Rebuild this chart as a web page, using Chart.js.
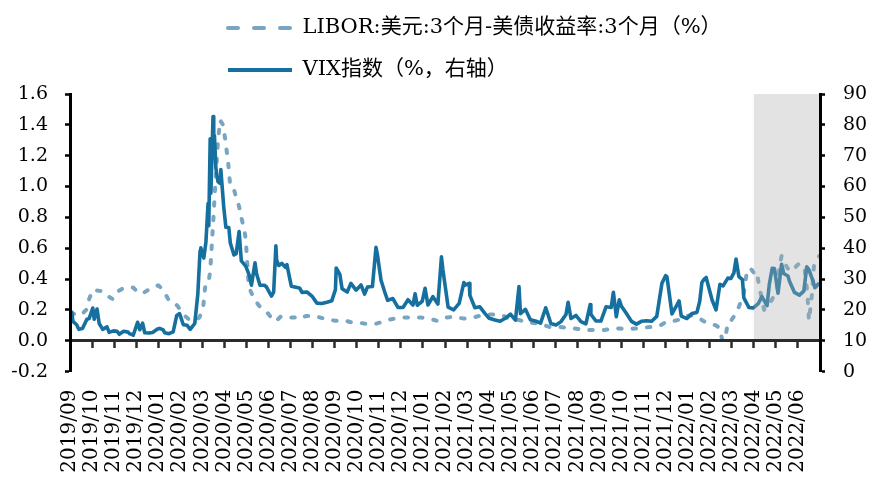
<!DOCTYPE html>
<html><head><meta charset="utf-8">
<script src="https://cdn.jsdelivr.net/npm/chart.js@4/dist/chart.umd.min.js"></script>
<style>html,body{margin:0;padding:0;background:#fff;}#wrap{width:872px;height:478px;}</style>
</head><body><div id="wrap"><canvas id="c" width="872" height="478"></canvas></div>
<script>
const monthLabels = ['2019/09','2019/10','2019/11','2019/12','2020/01','2020/02','2020/03','2020/04','2020/05','2020/06','2020/07','2020/08','2020/09','2020/10','2020/11','2020/12','2021/01','2021/02','2021/03','2021/04','2021/05','2021/06','2021/07','2021/08','2021/09','2021/10','2021/11','2021/12','2022/01','2022/02','2022/03','2022/04','2022/05','2022/06'];
const shadeFrom = '2022/04';
const leftTicks = [-0.2, 1.6, 0.2];
const rightTicks = [0, 90, 10];

const liborDates = ['2019-09-02','2019-09-09','2019-09-16','2019-09-23','2019-09-27','2019-10-02','2019-10-09','2019-10-16','2019-10-23','2019-10-30','2019-11-06','2019-11-13','2019-11-20','2019-11-27','2019-12-04','2019-12-11','2019-12-18','2019-12-25','2020-01-01','2020-01-08','2020-01-15','2020-01-22','2020-01-29','2020-02-05','2020-02-12','2020-02-19','2020-02-26','2020-03-02','2020-03-05','2020-03-09','2020-03-12','2020-03-16','2020-03-19','2020-03-23','2020-03-26','2020-03-30','2020-04-02','2020-04-06','2020-04-09','2020-04-14','2020-04-17','2020-04-21','2020-04-24','2020-04-28','2020-04-30','2020-05-04','2020-05-07','2020-05-12','2020-05-15','2020-05-20','2020-05-26','2020-05-29','2020-06-03','2020-06-08','2020-06-12','2020-06-17','2020-06-24','2020-07-01','2020-07-08','2020-07-15','2020-07-22','2020-07-29','2020-08-05','2020-08-12','2020-08-19','2020-08-26','2020-09-02','2020-09-09','2020-09-16','2020-09-23','2020-09-30','2020-10-07','2020-10-14','2020-10-21','2020-10-28','2020-11-04','2020-11-11','2020-11-18','2020-11-25','2020-12-02','2020-12-09','2020-12-16','2020-12-23','2020-12-30','2021-01-06','2021-01-13','2021-01-20','2021-01-27','2021-02-03','2021-02-10','2021-02-17','2021-02-24','2021-03-03','2021-03-10','2021-03-17','2021-03-24','2021-03-31','2021-04-07','2021-04-14','2021-04-21','2021-04-28','2021-05-05','2021-05-12','2021-05-19','2021-05-26','2021-06-02','2021-06-09','2021-06-16','2021-06-23','2021-06-30','2021-07-07','2021-07-14','2021-07-21','2021-07-28','2021-08-04','2021-08-11','2021-08-18','2021-08-25','2021-09-01','2021-09-08','2021-09-15','2021-09-22','2021-09-29','2021-10-06','2021-10-13','2021-10-20','2021-10-27','2021-11-03','2021-11-10','2021-11-17','2021-11-24','2021-12-01','2021-12-08','2021-12-15','2021-12-22','2021-12-29','2022-01-05','2022-01-12','2022-01-19','2022-01-26','2022-02-02','2022-02-09','2022-02-14','2022-02-17','2022-02-21','2022-02-24','2022-02-28','2022-03-03','2022-03-08','2022-03-11','2022-03-15','2022-03-18','2022-03-22','2022-03-25','2022-03-29','2022-04-01','2022-04-05','2022-04-08','2022-04-12','2022-04-15','2022-04-20','2022-04-25','2022-04-29','2022-05-03','2022-05-05','2022-05-09','2022-05-12','2022-05-16','2022-05-19','2022-05-24','2022-05-27','2022-05-31','2022-06-03','2022-06-07','2022-06-10','2022-06-14','2022-06-16','2022-06-20','2022-06-23','2022-06-27','2022-06-30'];
const liborValues = [0.18,0.17,0.165,0.20,0.27,0.33,0.325,0.32,0.29,0.27,0.32,0.34,0.345,0.345,0.31,0.31,0.33,0.345,0.36,0.33,0.27,0.26,0.22,0.17,0.14,0.13,0.15,0.21,0.35,0.36,0.45,0.75,1.0,1.3,1.43,1.40,1.31,1.16,1.0,0.98,0.93,0.87,0.80,0.72,0.66,0.37,0.32,0.27,0.25,0.22,0.20,0.19,0.16,0.13,0.13,0.155,0.16,0.15,0.15,0.14,0.16,0.16,0.16,0.15,0.14,0.135,0.13,0.13,0.13,0.12,0.12,0.115,0.11,0.11,0.11,0.12,0.13,0.14,0.145,0.15,0.15,0.15,0.15,0.15,0.145,0.14,0.13,0.13,0.15,0.155,0.15,0.145,0.145,0.15,0.16,0.165,0.17,0.17,0.17,0.16,0.145,0.14,0.135,0.125,0.12,0.115,0.11,0.10,0.09,0.09,0.09,0.085,0.08,0.08,0.075,0.075,0.07,0.07,0.07,0.07,0.075,0.08,0.08,0.075,0.075,0.08,0.08,0.085,0.09,0.09,0.10,0.12,0.13,0.13,0.14,0.16,0.165,0.16,0.14,0.12,0.11,0.10,0.08,0.0,0.02,0.12,0.13,0.15,0.19,0.22,0.27,0.31,0.44,0.47,0.46,0.44,0.45,0.36,0.27,0.20,0.24,0.26,0.30,0.33,0.45,0.55,0.53,0.48,0.46,0.45,0.47,0.49,0.50,0.49,0.47,0.30,0.13,0.30,0.50,0.53,0.55];

const vixDates = ['2019-09-03','2019-09-05','2019-09-10','2019-09-13','2019-09-18','2019-09-24','2019-09-27','2019-10-02','2019-10-04','2019-10-08','2019-10-11','2019-10-16','2019-10-22','2019-10-25','2019-10-31','2019-11-05','2019-11-08','2019-11-14','2019-11-20','2019-11-22','2019-11-27','2019-12-03','2019-12-06','2019-12-10','2019-12-13','2019-12-19','2019-12-24','2019-12-31','2020-01-03','2020-01-08','2020-01-10','2020-01-16','2020-01-22','2020-01-27','2020-01-31','2020-02-05','2020-02-10','2020-02-14','2020-02-20','2020-02-24','2020-02-27','2020-02-28','2020-03-03','2020-03-06','2020-03-09','2020-03-10','2020-03-12','2020-03-13','2020-03-16','2020-03-17','2020-03-18','2020-03-20','2020-03-23','2020-03-26','2020-03-27','2020-03-31','2020-04-03','2020-04-07','2020-04-09','2020-04-14','2020-04-17','2020-04-21','2020-04-24','2020-04-30','2020-05-05','2020-05-08','2020-05-13','2020-05-15','2020-05-20','2020-05-26','2020-05-29','2020-06-05','2020-06-08','2020-06-11','2020-06-12','2020-06-15','2020-06-19','2020-06-24','2020-06-26','2020-07-02','2020-07-10','2020-07-14','2020-07-17','2020-07-24','2020-07-31','2020-08-07','2020-08-14','2020-08-21','2020-08-28','2020-09-02','2020-09-03','2020-09-08','2020-09-11','2020-09-18','2020-09-23','2020-09-30','2020-10-07','2020-10-12','2020-10-16','2020-10-23','2020-10-28','2020-10-30','2020-11-04','2020-11-09','2020-11-13','2020-11-20','2020-11-27','2020-12-04','2020-12-11','2020-12-18','2020-12-21','2020-12-24','2020-12-31','2021-01-04','2021-01-08','2021-01-15','2021-01-22','2021-01-27','2021-01-29','2021-02-05','2021-02-12','2021-02-19','2021-02-25','2021-02-26','2021-03-04','2021-03-05','2021-03-12','2021-03-19','2021-03-26','2021-04-01','2021-04-09','2021-04-16','2021-04-23','2021-04-30','2021-05-07','2021-05-12','2021-05-14','2021-05-21','2021-05-28','2021-06-04','2021-06-11','2021-06-18','2021-06-25','2021-07-02','2021-07-09','2021-07-16','2021-07-19','2021-07-23','2021-07-30','2021-08-06','2021-08-13','2021-08-19','2021-08-20','2021-08-27','2021-09-03','2021-09-10','2021-09-17','2021-09-20','2021-09-24','2021-09-28','2021-10-01','2021-10-08','2021-10-15','2021-10-22','2021-10-29','2021-11-05','2021-11-12','2021-11-19','2021-11-26','2021-12-01','2021-12-03','2021-12-10','2021-12-17','2021-12-20','2021-12-23','2021-12-31','2022-01-07','2022-01-14','2022-01-18','2022-01-21','2022-01-24','2022-01-27','2022-02-04','2022-02-09','2022-02-14','2022-02-18','2022-02-24','2022-02-28','2022-03-04','2022-03-07','2022-03-11','2022-03-16','2022-03-18','2022-03-25','2022-03-31','2022-04-07','2022-04-12','2022-04-19','2022-04-22','2022-04-26','2022-04-29','2022-05-04','2022-05-09','2022-05-12','2022-05-18','2022-05-20','2022-05-27','2022-06-03','2022-06-09','2022-06-13','2022-06-16','2022-06-22','2022-06-24','2022-06-30'];
const vixValues = [19.7,16.3,15.2,13.7,14.0,17.0,17.2,20.6,17.0,20.3,15.6,13.7,14.5,12.7,13.2,13.1,12.1,13.1,12.8,12.3,11.8,16.0,13.6,15.7,12.6,12.5,12.7,13.8,14.0,13.5,12.6,12.3,12.9,18.2,18.8,15.2,15.0,13.7,15.6,25.0,39.2,40.1,36.8,41.9,54.5,47.3,75.5,57.8,82.7,75.9,76.5,66.0,61.6,61.0,65.5,53.5,46.8,46.7,41.7,37.8,38.2,45.4,35.9,34.2,31.2,28.0,35.3,31.9,28.0,28.0,27.5,24.5,25.8,40.8,36.1,34.4,35.1,33.8,34.7,27.7,27.3,27.0,25.7,25.8,24.5,22.2,22.1,22.5,23.0,26.6,33.6,31.5,26.9,25.8,28.6,26.4,28.1,25.1,27.4,27.6,40.3,38.0,29.6,25.8,23.1,23.7,20.8,20.8,23.3,21.6,25.2,21.5,22.8,27.0,21.6,24.3,21.9,37.2,33.1,20.9,20.0,22.1,28.9,28.0,28.6,24.7,20.7,21.0,18.9,17.3,16.7,16.3,17.3,18.6,16.7,27.6,18.8,20.2,16.8,16.4,15.7,20.7,15.6,15.1,16.2,18.5,22.5,17.2,18.2,16.2,15.5,21.7,18.6,16.4,16.4,21.0,20.8,25.7,17.8,23.3,21.2,18.8,16.3,15.4,16.3,16.5,16.3,17.9,28.6,31.1,30.7,18.7,21.6,22.9,18.0,17.2,18.8,19.2,22.8,28.9,29.9,30.5,23.2,20.0,28.3,27.8,30.3,30.2,32.0,36.5,30.8,29.8,23.9,20.8,20.6,22.0,24.3,21.4,28.2,33.5,33.4,25.4,34.8,31.8,31.0,29.4,25.7,24.8,26.1,34.0,33.0,29.0,27.2,28.7];

function monthPos(d) {
  const [y, m, dd] = d.split('-').map(Number);
  const dim = new Date(y, m, 0).getDate();
  return (y - 2019) * 12 + (m - 9) + (dd - 1) / dim;
}
const FONT = "'DejaVu Serif', 'Noto Sans CJK SC', serif";
const monthTicks = s => { s.ticks = monthLabels.map((_, i) => ({ value: i })); };

const shadePlugin = {
  id: 'shade',
  afterDatasetsDraw(chart) {
    const { ctx, chartArea, scales } = chart;
    const x0 = scales.x.getPixelForValue(monthLabels.indexOf(shadeFrom));
    const y1 = scales.y.getPixelForValue(0);
    ctx.save();
    ctx.fillStyle = 'rgba(175,175,175,0.35)';
    ctx.fillRect(x0, chartArea.top, chartArea.right - x0, y1 - chartArea.top);
    ctx.restore();
  }
};
const legendPlace = {
  id: 'legendPlace',
  afterLayout(chart) {
    const lg = chart.legend;
    const pad = lg.options.labels.padding;
    lg.left = 228 - pad;
    lg.right = chart.width;
    lg.top = 28 - pad - lg.options.labels.font.size / 2;
  }
};

new Chart(document.getElementById('c'), {
  type: 'line',
  data: {
    datasets: [
      {
        label: 'LIBOR:美元:3个月-美债收益率:3个月（%）',
        data: liborDates.map((d, i) => ({ x: monthPos(d), y: liborValues[i] })),
        yAxisID: 'y', xAxisID: 'x',
        borderColor: '#78A5C1', borderWidth: 4, borderDash: [3.5, 11],
        borderCapStyle: 'round', borderJoinStyle: 'round',
        pointRadius: 0, tension: 0, order: 1
      },
      {
        label: 'VIX指数（%，右轴）',
        data: vixDates.map((d, i) => ({ x: monthPos(d), y: vixValues[i] })),
        yAxisID: 'y2', xAxisID: 'x',
        borderColor: '#16709F', borderWidth: 3.6, borderJoinStyle: 'round',
        pointRadius: 0, tension: 0, order: 0
      }
    ]
  },
  options: {
    responsive: false, animation: false, devicePixelRatio: 1,
    layout: { padding: 0 },
    plugins: {
      tooltip: { enabled: false },
      legend: {
        position: 'top', align: 'start', fullSize: false,
        labels: {
          usePointStyle: true, pointStyle: 'line', pointStyleWidth: 64,
          padding: 21, color: '#000',
          font: { family: FONT, size: 21 },
          sort: (a, b) => a.datasetIndex - b.datasetIndex,
          generateLabels: chart => {
            const items = Chart.defaults.plugins.legend.labels.generateLabels(chart);
            items.forEach(it => {
              it.lineWidth = 4;
              if (it.datasetIndex === 0) { it.lineDash = [10, 16]; it.lineCap = 'round'; }
            });
            return items;
          }
        }
      }
    },
    scales: {
      x: {
        type: 'linear', position: 'bottom', min: 0, max: monthLabels.length,
        afterBuildTicks: monthTicks,
        ticks: { autoSkip: false, minRotation: 90, maxRotation: 90, padding: 18, color: '#000',
          font: { family: FONT, size: 20 }, callback: v => monthLabels[v] ?? '' },
        grid: { display: false, drawTicks: false },
        border: { display: false },
        afterFit: s => { s.height = 106.4; }
      },
      xa: {
        type: 'linear', position: { y: 0 }, min: 0, max: monthLabels.length,
        afterBuildTicks: monthTicks,
        ticks: { display: false },
        grid: { drawOnChartArea: false, drawTicks: true, tickLength: 6, tickWidth: 2.5, tickColor: '#2b2b2b' },
        border: { display: true, color: '#2b2b2b', width: 3, z: 1 },
        afterFit: s => { s.height = 0; }
      },
      y: {
        position: 'left', min: leftTicks[0], max: leftTicks[1],
        ticks: { stepSize: leftTicks[2], padding: 17, color: '#000', font: { family: FONT, size: 19 },
          callback: v => Number(v).toFixed(1) },
        grid: { drawOnChartArea: false, tickLength: 5, tickWidth: 2.5, tickColor: '#000' },
        border: { color: '#000', width: 3, z: 1 },
        afterFit: s => { s.width = 70; }
      },
      y2: {
        position: 'right', min: rightTicks[0], max: rightTicks[1],
        ticks: { stepSize: rightTicks[2], padding: 18, color: '#000', font: { family: FONT, size: 19 } },
        grid: { drawOnChartArea: false, tickLength: 5, tickWidth: 2.5, tickColor: '#000' },
        border: { color: '#000', width: 3, z: 1 },
        afterFit: s => { s.width = 52; }
      }
    }
  },
  plugins: [shadePlugin, legendPlace]
});
</script></body></html>
